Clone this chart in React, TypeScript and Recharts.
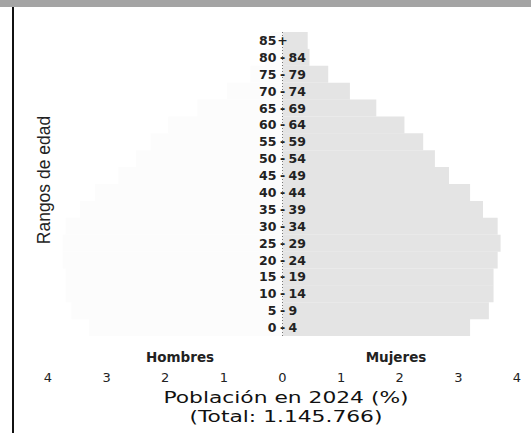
import React from "react";
import { BarChart, Bar, XAxis, YAxis, ReferenceLine, LabelList } from "recharts";

const ageGroups = [
  "0 - 4", "5 - 9", "10 - 14", "15 - 19", "20 - 24", "25 - 29", "30 - 34", "35 - 39", "40 - 44",
  "45 - 49", "50 - 54", "55 - 59", "60 - 64", "65 - 69", "70 - 74", "75 - 79", "80 - 84", "85 +",
];
const hombres = [3.3, 3.6, 3.7, 3.7, 3.75, 3.75, 3.7, 3.45, 3.2, 2.8, 2.5, 2.25, 1.95, 1.45, 0.95, 0.55, 0.3, 0.2];
const mujeres = [3.2, 3.52, 3.6, 3.6, 3.67, 3.72, 3.67, 3.42, 3.2, 2.84, 2.6, 2.4, 2.08, 1.6, 1.15, 0.78, 0.46, 0.43];
const xTicks = [-4, -3, -2, -1, 0, 1, 2, 3, 4];

const data = ageGroups.map((g, i) => ({ grupo: g, hombres: -hombres[i], mujeres: mujeres[i] }));

const VERDANA = "'DejaVu Sans', Verdana, sans-serif";

const AgeLabel = (props: any) => {
  const { x, y, height, value } = props;
  const parts = String(value).split(" ");
  const cy = y + height / 2;
  const style = { fontFamily: VERDANA, fontSize: 12.5, fontWeight: 700, fill: "#222" };
  return (
    <g>
      <text x={x - 6} y={cy} dy={4.5} textAnchor="end" style={style}>{parts[0]}</text>
      <text x={x} y={cy} dy={4.5} textAnchor="middle" style={style}>{parts[1]}</text>
      <text x={x + 6} y={cy} dy={4.5} textAnchor="start" style={style}>{parts[2] || ""}</text>
    </g>
  );
};

const XTick = (props: any) => {
  const { x, y, payload } = props;
  return (
    <text x={x} y={y} dy={38} textAnchor="middle" style={{ fontFamily: VERDANA, fontSize: 13, fill: "#222" }}>
      {Math.abs(payload.value)}
    </text>
  );
};

const titleStyle: React.CSSProperties = {
  position: "absolute",
  left: 286,
  whiteSpace: "nowrap",
  fontFamily: VERDANA,
  fontSize: 16.5,
  lineHeight: "17px",
  color: "#111",
};

export default function App() {
  return (
    <div style={{ position: "fixed", left: 0, top: 0, width: 531, height: 433, background: "#fff", overflow: "hidden" }}>
      <div style={{ position: "absolute", left: 0, top: 0, width: 531, height: 7, background: "#a4a4a4" }} />
      <div style={{ position: "absolute", left: 12, top: 7, width: 2, height: 426, background: "#111" }} />
      <BarChart
        width={531}
        height={433}
        data={data}
        layout="vertical"
        stackOffset="sign"
        barCategoryGap={0}
        margin={{ top: 32, right: 14, bottom: 37, left: 48 }}
      >
        <XAxis
          type="number"
          domain={[-4, 4]}
          ticks={xTicks}
          axisLine={false}
          tickLine={false}
          height={60}
          tick={<XTick />}
        />
        <YAxis type="category" dataKey="grupo" reversed hide />
        <Bar dataKey="hombres" stackId="a" fill="#fcfcfc" isAnimationActive={false} />
        <Bar dataKey="mujeres" stackId="a" fill="#e4e4e4" isAnimationActive={false}>
          <LabelList dataKey="grupo" content={<AgeLabel />} />
        </Bar>
        <ReferenceLine x={0} stroke="#777" strokeDasharray="1 2" />
      </BarChart>
      <div style={{ position: "absolute", left: 180, top: 357, transform: "translate(-50%, -50%)", fontFamily: VERDANA, fontSize: 13.5, fontWeight: 700, color: "#222" }}>
        Hombres
      </div>
      <div style={{ position: "absolute", left: 396, top: 357, transform: "translate(-50%, -50%)", fontFamily: VERDANA, fontSize: 13.5, fontWeight: 700, color: "#222" }}>
        Mujeres
      </div>
      <div style={{ ...titleStyle, top: 397, transform: "translate(-50%, -50%) scaleX(1.32)" }}>
        Población en 2024 (%)
      </div>
      <div style={{ ...titleStyle, top: 416, transform: "translate(-50%, -50%) scaleX(1.32)" }}>
        (Total: 1.145.766)
      </div>
      <div
        style={{
          position: "absolute",
          left: 44,
          top: 180,
          transform: "translate(-50%, -50%) rotate(-90deg)",
          whiteSpace: "nowrap",
          fontFamily: "'Liberation Sans', Arial, sans-serif",
          fontSize: 17.5,
          color: "#222",
        }}
      >
        Rangos de edad
      </div>
    </div>
  );
}
